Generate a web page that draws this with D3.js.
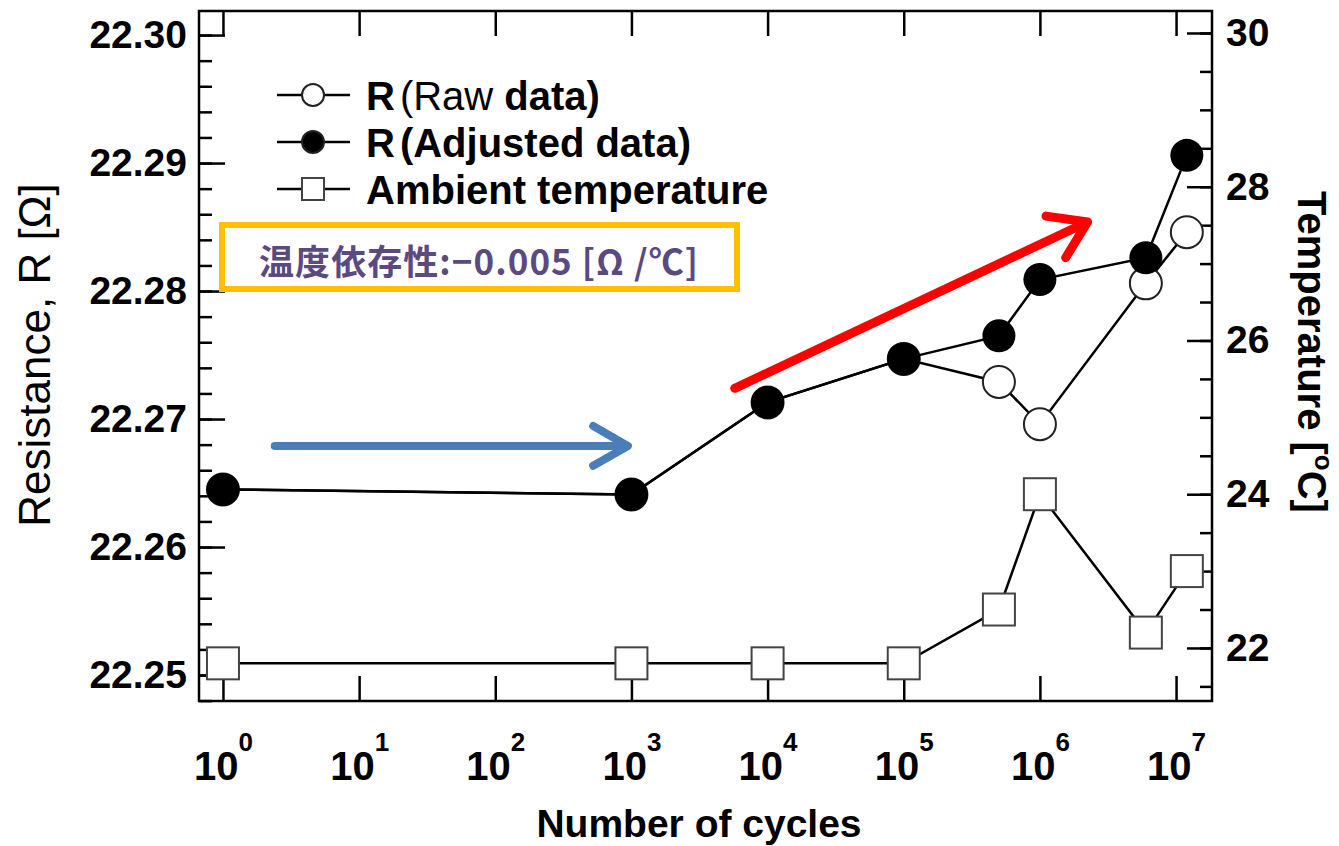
<!DOCTYPE html>
<html>
<head>
<meta charset="utf-8">
<script src="https://cdn.jsdelivr.net/npm/d3@7"></script>
<style>
  body { margin: 0; background: #fff; }
  svg text { font-family: "Liberation Sans", Arial, sans-serif; }
</style>
</head>
<body>
<div id="chart"></div>
<script>
// values
const cycles = [1, 1e3, 1e4, 1e5, 5e5, 1e6, 6e6, 1.2e7];
const rawR = [22.2645, 22.2641, 22.2713, 22.2747, 22.2729, 22.2696, 22.2806, 22.2846];
const adjR = [22.2645, 22.2641, 22.2713, 22.2747, 22.2765, 22.2809, 22.2826, 22.2906];
const ambientT = [21.8, 21.8, 21.8, 21.8, 22.5, 24.0, 22.2, 23.0];

const xDecades = [0, 1, 2, 3, 4, 5, 6, 7];
const rTicks = [22.25, 22.26, 22.27, 22.28, 22.29, 22.30];
const tTicks = [22, 24, 26, 28, 30];

// arrows in data space: [cycles, resistance]
const blueArrow = [[2.4, 22.2679], [942, 22.2679]];
const redArrow = [[5740, 22.2724], [2.24e6, 22.2854]];

const W = 1339, H = 846;
const plot = { left: 199, right: 1212, top: 11, bottom: 701 };

const svg = d3.select("#chart").append("svg")
  .attr("width", W).attr("height", H);

const x = d3.scaleLog()
  .domain([Math.pow(10, -0.176), Math.pow(10, 7.264)])
  .range([plot.left, plot.right]);

const yR = d3.scaleLinear()
  .domain([22.24797, 22.30188])
  .range([plot.bottom, plot.top]);

const yT = d3.scaleLinear()
  .domain([21.31, 30.286])
  .range([plot.bottom, plot.top]);

// ---- axes ----
const tickFont = "39px";

// bottom x axis, ticks pointing inside
const xAxisG = svg.append("g")
  .attr("transform", `translate(0,${plot.bottom})`)
  .call(d3.axisBottom(x).tickValues(xDecades.map(e => Math.pow(10, e))).tickSize(-25).tickFormat(""));
xAxisG.selectAll("text").remove();
xAxisG.selectAll(".tick").each(function(d) {
  const t = d3.select(this).append("text")
    .attr("y", 79)
    .attr("text-anchor", "middle")
    .attr("fill", "#000")
    .style("font-weight", "bold")
    .style("font-size", "40px");
  t.append("tspan").text("10");
  t.append("tspan").attr("dy", -29).style("font-size", "26px").text(Math.round(Math.log10(d)));
});

// top x axis ticks
svg.append("g")
  .attr("transform", `translate(0,${plot.top})`)
  .call(d3.axisTop(x).tickValues(xDecades.map(e => Math.pow(10, e))).tickSize(-25).tickFormat(""));

// left resistance axis
svg.append("g")
  .attr("transform", `translate(${plot.left},0)`)
  .call(d3.axisLeft(yR).tickValues(d3.range(22.248, 22.3015, 0.002)).tickSize(-13).tickFormat(""));
svg.append("g")
  .attr("transform", `translate(${plot.left},0)`)
  .call(d3.axisLeft(yR).tickValues(rTicks).tickSize(-26).tickPadding(12).tickFormat(d3.format(".2f")))
  .selectAll("text")
    .style("font-size", tickFont)
    .style("font-weight", "bold");

// right temperature axis
svg.append("g")
  .attr("transform", `translate(${plot.right},0)`)
  .call(d3.axisRight(yT).tickValues(d3.range(21.5, 30.01, 0.5)).tickSize(-12).tickFormat(""));
svg.append("g")
  .attr("transform", `translate(${plot.right},0)`)
  .call(d3.axisRight(yT).tickValues(tTicks).tickSize(-25).tickPadding(14).tickFormat(d3.format("d")))
  .selectAll("text")
    .style("font-size", tickFont)
    .style("font-weight", "bold");

svg.selectAll(".domain").remove();
svg.selectAll(".tick line").attr("stroke", "#000").attr("stroke-width", 2.5);

// frame
svg.append("rect")
  .attr("x", plot.left).attr("y", plot.top)
  .attr("width", plot.right - plot.left).attr("height", plot.bottom - plot.top)
  .attr("fill", "none").attr("stroke", "#000").attr("stroke-width", 2.5);

// axis titles
svg.append("text")
  .attr("x", 699).attr("y", 837)
  .attr("text-anchor", "middle")
  .style("font-size", "39px").style("font-weight", "bold")
  .text("Number of cycles");

svg.append("text")
  .attr("transform", "translate(50,355) rotate(-90)")
  .attr("text-anchor", "middle")
  .style("font-size", "44px")
  .text("Resistance, R [Ω]");

const tTitle = svg.append("text")
  .attr("transform", "translate(1298,352) rotate(90)")
  .attr("text-anchor", "middle")
  .style("font-size", "40px").style("font-weight", "bold");
tTitle.append("tspan").text("Temperature [");
tTitle.append("tspan").attr("dy", -17).style("font-size", "26px").text("o");
tTitle.append("tspan").attr("dy", 17).text("C]");

// ---- series ----
const pts = (ys) => cycles.map((c, i) => [c, ys[i]]);

const lineR = d3.line().x(d => x(d[0])).y(d => yR(d[1]));
const lineT = d3.line().x(d => x(d[0])).y(d => yT(d[1]));

// ambient temperature
svg.append("path")
  .attr("d", lineT(pts(ambientT)))
  .attr("fill", "none").attr("stroke", "#000").attr("stroke-width", 2.5);
svg.selectAll(".sq").data(pts(ambientT)).enter().append("rect")
  .attr("x", d => x(d[0]) - 16).attr("y", d => yT(d[1]) - 16)
  .attr("width", 32).attr("height", 32)
  .attr("fill", "#fff").attr("stroke", "#444").attr("stroke-width", 2);

// raw resistance
svg.append("path")
  .attr("d", lineR(pts(rawR)))
  .attr("fill", "none").attr("stroke", "#000").attr("stroke-width", 2.5);
svg.selectAll(".raw").data(pts(rawR)).enter().append("circle")
  .attr("cx", d => x(d[0])).attr("cy", d => yR(d[1])).attr("r", 16)
  .attr("fill", "#fff").attr("stroke", "#222").attr("stroke-width", 2);

// adjusted resistance
svg.append("path")
  .attr("d", lineR(pts(adjR)))
  .attr("fill", "none").attr("stroke", "#000").attr("stroke-width", 2.5);
svg.selectAll(".adj").data(pts(adjR)).enter().append("circle")
  .attr("cx", d => x(d[0])).attr("cy", d => yR(d[1])).attr("r", 16.5)
  .attr("fill", "#000");

// ---- legend ----
const legend = svg.append("g");
const legRows = [
  { y: 95, marker: "open" },
  { y: 142, marker: "filled" },
  { y: 189, marker: "square" }
];
legRows.forEach(r => {
  legend.append("line")
    .attr("x1", 277).attr("x2", 350).attr("y1", r.y).attr("y2", r.y)
    .attr("stroke", "#000").attr("stroke-width", 2.5);
  if (r.marker === "square") {
    legend.append("rect").attr("x", 302).attr("y", r.y - 11).attr("width", 22).attr("height", 22)
      .attr("fill", "#fff").attr("stroke", "#444").attr("stroke-width", 2);
  } else {
    legend.append("circle").attr("cx", 313).attr("cy", r.y).attr("r", 11)
      .attr("fill", r.marker === "filled" ? "#000" : "#fff")
      .attr("stroke", "#222").attr("stroke-width", 2);
  }
});
const l1 = legend.append("text").attr("x", 366).attr("y", 110).style("font-size", "40px");
l1.append("tspan").style("font-weight", "bold").text("R");
l1.append("tspan").attr("dx", 5).text("(Raw ");
l1.append("tspan").style("font-weight", "bold").text("data)");
const l2 = legend.append("text").attr("x", 366).attr("y", 157)
  .style("font-size", "40px").style("font-weight", "bold");
l2.append("tspan").text("R");
l2.append("tspan").attr("dx", 5).text("(Adjusted data)");
legend.append("text").attr("x", 366).attr("y", 204)
  .style("font-size", "40px").style("font-weight", "bold").text("Ambient temperature");

// ---- annotation box ----
svg.append("rect")
  .attr("x", 222).attr("y", 225).attr("width", 515).attr("height", 64)
  .attr("fill", "#fff").attr("stroke", "#FFC000").attr("stroke-width", 6);
svg.append("text")
  .attr("x", 259).attr("y", 275)
  .attr("fill", "#5B4A7F")
  .attr("textLength", 439)
  .attr("lengthAdjust", "spacing")
  .style("font-family", "'Noto Sans CJK JP', 'Noto Sans CJK SC', sans-serif")
  .style("font-size", "35px")
  .style("font-weight", "bold")
  .text("温度依存性:−0.005 [Ω /℃]");

// ---- arrows ----
function arrow(p, color, width, headLen, headAngle) {
  const x0 = x(p[0][0]), y0 = yR(p[0][1]);
  const x1 = x(p[1][0]), y1 = yR(p[1][1]);
  const a = Math.atan2(y1 - y0, x1 - x0);
  const g = svg.append("g")
    .attr("fill", "none").attr("stroke", color).attr("stroke-width", width)
    .attr("stroke-linecap", "round").attr("stroke-linejoin", "round");
  g.append("line").attr("x1", x0).attr("y1", y0).attr("x2", x1 - Math.cos(a) * width * 0.6).attr("y2", y1 - Math.sin(a) * width * 0.6);
  const arm = (s) => [x1 - headLen * Math.cos(a + s * headAngle), y1 - headLen * Math.sin(a + s * headAngle)];
  g.append("path").attr("d", d3.line()([arm(1), [x1, y1], arm(-1)]));
}
arrow(blueArrow, "#4A7EBB", 8, 40, 0.52);
arrow(redArrow, "#FF0000", 9, 42, 0.58);
</script>
</body>
</html>
